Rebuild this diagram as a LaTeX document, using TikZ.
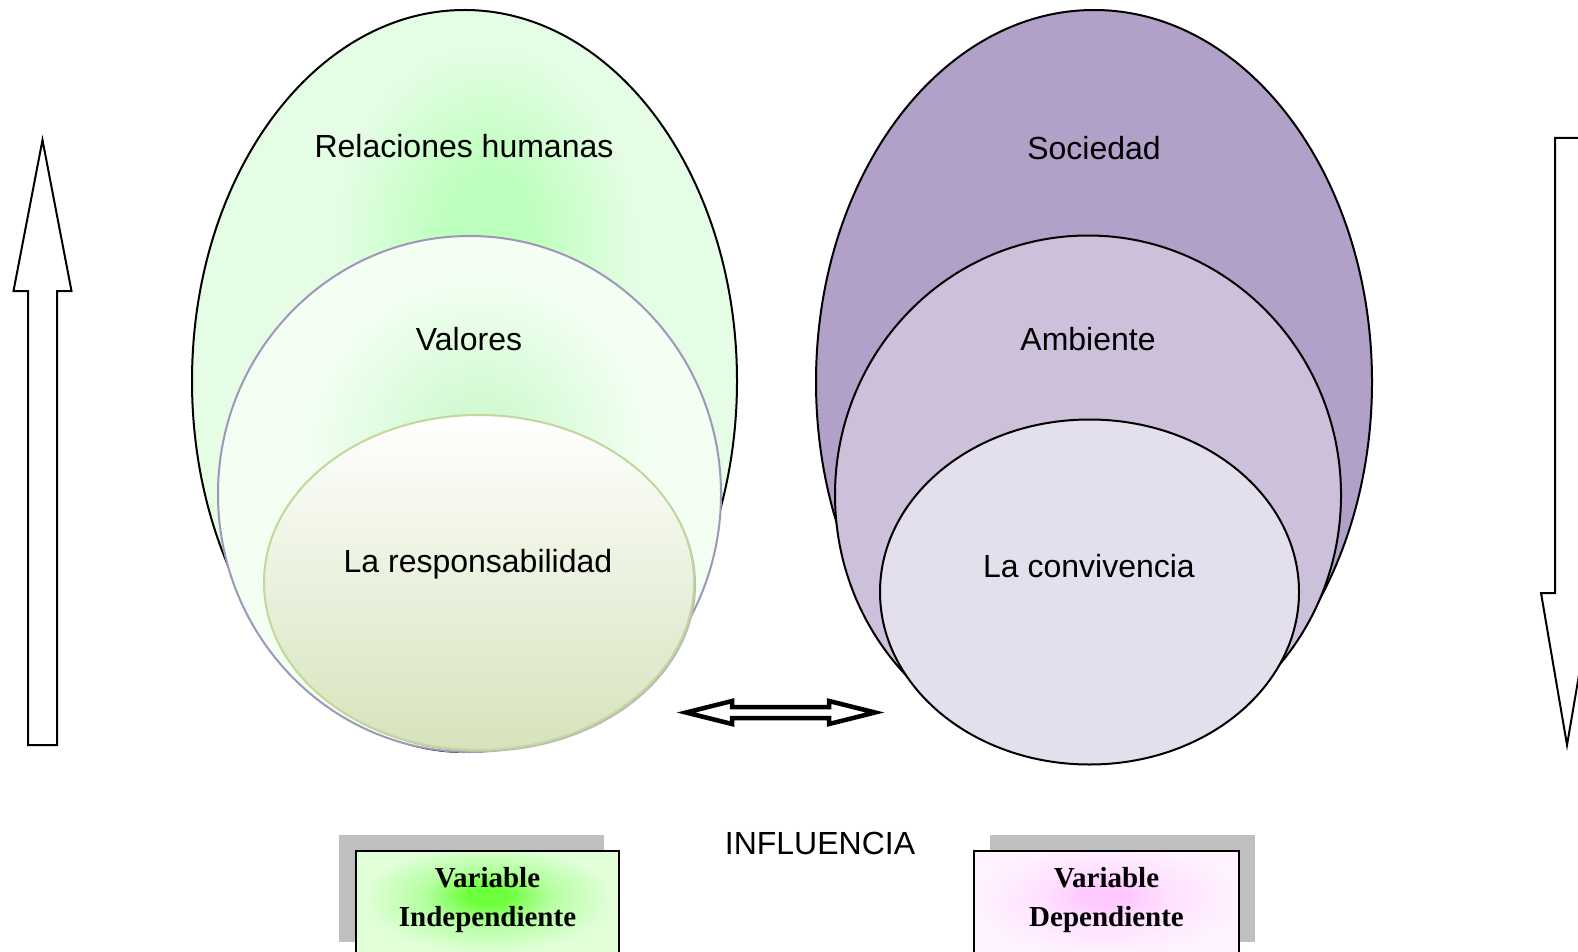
\documentclass[tikz,border=0pt]{standalone}
\usepackage{fontspec}
\setmainfont{Liberation Sans}
\newfontfamily\timesfont{Liberation Serif}
\definecolor{paleA}{RGB}{229,253,229}
\definecolor{glowA}{RGB}{188,255,188}
\definecolor{paleB}{RGB}{242,255,242}
\definecolor{glowB}{RGB}{210,250,210}
\definecolor{respTop}{RGB}{255,255,255}
\definecolor{respMid}{RGB}{242,246,234}
\definecolor{respBot}{RGB}{214,227,188}
\definecolor{respLine}{RGB}{195,214,155}
\definecolor{valLine}{RGB}{160,150,185}
\definecolor{socFill}{RGB}{177,160,199}
\definecolor{ambFill}{RGB}{204,192,218}
\definecolor{conFill}{RGB}{228,223,236}
\definecolor{shadowGray}{RGB}{191,191,191}
\definecolor{boxGreenIn}{RGB}{110,255,60}
\definecolor{boxGreenMid}{RGB}{180,255,160}
\definecolor{boxGreenOut}{RGB}{226,255,218}
\definecolor{boxPinkIn}{RGB}{255,200,255}
\definecolor{boxPinkMid}{RGB}{255,225,255}
\definecolor{boxPinkOut}{RGB}{255,242,255}
\pgfdeclareradialshading{bigglow}{\pgfpoint{2.35bp}{10.6bp}}{color(0bp)=(glowA); color(3.5bp)=(glowA); color(14bp)=(paleA); color(80bp)=(paleA)}
\pgfdeclareradialshading{valglow}{\pgfpoint{1bp}{5bp}}{color(0bp)=(glowB); color(4bp)=(glowB); color(17bp)=(paleB); color(80bp)=(paleB)}
\pgfdeclareradialshading{greenbox}{\pgfpoint{0bp}{5.7bp}}{color(0bp)=(boxGreenIn); color(4bp)=(boxGreenIn); color(12bp)=(boxGreenMid); color(24bp)=(boxGreenOut); color(80bp)=(boxGreenOut)}
\pgfdeclareradialshading{pinkbox}{\pgfpoint{0bp}{5.7bp}}{color(0bp)=(boxPinkIn); color(4bp)=(boxPinkIn); color(12bp)=(boxPinkMid); color(24bp)=(boxPinkOut); color(80bp)=(boxPinkOut)}
\begin{document}
\begin{tikzpicture}[x=1pt,y=-1pt,
  lbl/.style={font=\fontsize{32}{38}\selectfont, text=black, inner sep=0pt},
  boxtxt/.style={font=\timesfont\bfseries\fontsize{29}{39}\selectfont, align=center, inner sep=0pt},
  blockarrow/.style={draw=black, fill=white, line width=2pt, line join=miter},
  dblarrow/.style={draw=black, fill=white, line width=4.5pt, line join=miter},
  ovalline/.style={line width=2pt},
  shadowbox/.style={fill=shadowGray, draw=none},
  frontbox/.style={draw=black, line width=1.2pt}]
\useasboundingbox (0,0) rectangle (1578,952);
\fill[white] (0,0) rectangle (1578,952);

% ---- left group ----
\path[shade, shading=bigglow, draw=black, ovalline] (464.5,381) ellipse [x radius=272.5, y radius=371];
\path[shade, shading=valglow, draw=valLine, ovalline] (469.5,494) ellipse [x radius=251.5, y radius=258];
\fill[gray!55] (481,584.5) ellipse [x radius=215, y radius=167.5];
\path[top color=respTop, middle color=respMid, bottom color=respBot, draw=respLine, ovalline] (479,582.5) ellipse [x radius=215, y radius=167.5];

% ---- right group ----
\path[fill=socFill, draw=black, ovalline] (1094,382) ellipse [x radius=278, y radius=372];
\path[fill=ambFill, draw=black, ovalline] (1088,495) ellipse [x radius=253, y radius=259.5];
\path[fill=conFill, draw=black, ovalline] (1089.5,592) ellipse [x radius=209.5, y radius=172.5];

% ---- labels in ovals ----
\node[lbl] (rel) at (464,146) {Relaciones humanas};
\node[lbl] (val) at (469,339) {Valores};
\node[lbl] (resp) at (478,564) {La responsabilidad};
\node[lbl] (soc) at (1094,148) {Sociedad};
\node[lbl] (amb) at (1088,339) {Ambiente};
\node[lbl] (conv) at (1089,566) {La convivencia};

% ---- side arrows ----
\draw[blockarrow] (42.5,140) -- (71.5,291) -- (57,291) -- (57,745) -- (28,745) -- (28,291) -- (13.5,291) -- cycle;
\draw[blockarrow] (1555,138) -- (1579,138) -- (1579,593) -- (1593,593) -- (1567,745) -- (1541,593) -- (1555,593) -- cycle;

% ---- double arrow ----
\draw[dblarrow] (686,712.5) -- (732,701) -- (732,707) -- (829,707) -- (829,701) -- (875,712.5) -- (829,724) -- (829,718) -- (732,718) -- (732,724) -- cycle;

% ---- influence label ----
\node[lbl] (infl) at (820,843) {INFLUENCIA};

% ---- variable boxes ----
\fill[shadowbox] (339,835) rectangle (604,942);
\path[shade, shading=greenbox, frontbox] (356,851) rectangle (619,965);
\node[boxtxt] (vi) at (487.5,900) {Variable\\Independiente};

\fill[shadowbox] (990,835) rectangle (1255,942);
\path[shade, shading=pinkbox, frontbox] (974,851) rectangle (1239,965);
\node[boxtxt] (vd) at (1106.5,900) {Variable\\Dependiente};
\end{tikzpicture}
\end{document}
